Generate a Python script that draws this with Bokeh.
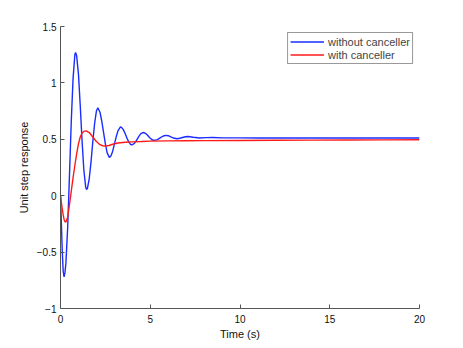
from bokeh.plotting import figure
from bokeh.models import FixedTicker, Legend, LegendItem
from bokeh.embed import file_html
from bokeh.resources import INLINE

# Data
t_blue = [0, 0.05, 0.1, 0.15, 0.2, 0.25, 0.3, 0.4, 0.5, 0.6, 0.7, 0.8, 0.84, 0.9, 1.0, 1.1, 1.2, 1.3, 1.4, 1.45,
          1.5, 1.6, 1.7, 1.8, 1.9, 2.0, 2.08, 2.2, 2.3, 2.4, 2.5, 2.6, 2.72, 2.8, 2.9, 3.0, 3.1, 3.2, 3.34,
          3.4, 3.5, 3.6, 3.7, 3.8, 3.9, 3.97, 4.1, 4.2, 4.3, 4.4, 4.5, 4.6, 4.7, 4.8, 4.9, 5.0, 5.1, 5.22,
          5.4, 5.55, 5.7, 5.85, 6.0, 6.15, 6.3, 6.48, 6.65, 6.8, 6.95, 7.1, 7.4, 7.75, 8.1, 8.5, 9, 10, 11,
          12, 14, 16, 18, 20]
y_blue = [0, -0.25, -0.5, -0.67, -0.72, -0.68, -0.60, -0.28, 0.18, 0.66, 1.04, 1.25, 1.27, 1.24, 1.08, 0.80,
          0.49, 0.23, 0.08, 0.055, 0.066, 0.15, 0.30, 0.48, 0.64, 0.75, 0.78, 0.74, 0.66, 0.56, 0.46, 0.38,
          0.34, 0.35, 0.39, 0.455, 0.52, 0.575, 0.61, 0.606, 0.586, 0.552, 0.512, 0.477, 0.455, 0.45, 0.461,
          0.482, 0.509, 0.535, 0.553, 0.56, 0.556, 0.544, 0.527, 0.51, 0.496, 0.49, 0.497, 0.512, 0.527,
          0.535, 0.532, 0.521, 0.511, 0.505, 0.509, 0.516, 0.523, 0.525, 0.518, 0.512, 0.515, 0.516, 0.513,
          0.513, 0.512, 0.512, 0.512, 0.512, 0.512, 0.512]

t_red = [0, 0.05, 0.1, 0.15, 0.2, 0.25, 0.3, 0.4, 0.5, 0.6, 0.7, 0.8, 0.9, 1.0, 1.1, 1.2, 1.3, 1.43, 1.6,
         1.8, 2.0, 2.2, 2.35, 2.5, 2.7, 2.9, 3.2, 3.6, 4.0, 4.5, 5, 6, 7, 8, 10, 12, 14, 16, 18, 20]
y_red = [0, -0.06, -0.12, -0.17, -0.21, -0.23, -0.234, -0.19, -0.08, 0.04, 0.16, 0.27, 0.37, 0.46, 0.52,
         0.555, 0.57, 0.575, 0.56, 0.52, 0.48, 0.452, 0.443, 0.44, 0.445, 0.456, 0.467, 0.474, 0.477, 0.48,
         0.484, 0.486, 0.487, 0.488, 0.49, 0.492, 0.493, 0.494, 0.495, 0.496]

x_ticks = [0, 5, 10, 15, 20]
y_ticks = [-1, -0.5, 0, 0.5, 1, 1.5]
y_tick_labels = ["\u22121", "\u22120.5", "0", "0.5", "1", "1.5"]
series_names = ["without canceller", "with canceller"]

FONT = "Liberation Sans"

p = figure(width=463, height=348, x_range=(0, 20), y_range=(-1, 1.5),
           output_backend="svg", toolbar_location=None,
           min_border_left=60, min_border_right=44, min_border_top=26, min_border_bottom=40)
p.outline_line_color = None
p.xgrid.visible = False
p.ygrid.visible = False
p.background_fill_color = "white"
p.border_fill_color = "white"

rb = p.line(t_blue, y_blue, line_color="#1a2cff", line_width=1.4)
rr = p.line(t_red, y_red, line_color="#ff1a1a", line_width=1.4)

for ax in (p.xaxis[0], p.yaxis[0]):
    ax.axis_line_color = "#555555"
    ax.major_tick_line_color = "#555555"
    ax.major_tick_in = 4
    ax.major_tick_out = 0
    ax.minor_tick_line_color = None
    ax.major_label_text_font = FONT
    ax.major_label_text_font_size = "10px"
    ax.major_label_text_color = "#111111"
    ax.axis_label_text_font = FONT
    ax.axis_label_text_font_size = "11px"
    ax.axis_label_text_font_style = "normal"
    ax.axis_label_text_color = "#111111"

p.xaxis[0].ticker = FixedTicker(ticks=x_ticks)
p.yaxis[0].ticker = FixedTicker(ticks=y_ticks)
p.yaxis[0].major_label_overrides = {k: v for k, v in zip(y_ticks, y_tick_labels)}
p.xaxis[0].axis_label = "Time (s)"
p.yaxis[0].axis_label = "Unit step response"
p.xaxis[0].major_label_standoff = 6
p.xaxis[0].axis_label_standoff = 2
p.yaxis[0].major_label_standoff = 4
p.yaxis[0].axis_label_standoff = 4

legend = Legend(items=[LegendItem(label=series_names[0], renderers=[rb]),
                       LegendItem(label=series_names[1], renderers=[rr])],
                location="top_right")
legend.margin = 6
legend.padding = 2
legend.spacing = 0
legend.label_text_font = FONT
legend.label_text_font_size = "11px"
legend.label_height = 13
legend.glyph_height = 13
legend.glyph_width = 34
legend.label_standoff = 4
legend.border_line_color = "#333333"
legend.border_line_width = 1
legend.background_fill_alpha = 1
p.add_layout(legend)

open("out.html", "w").write(file_html(p, INLINE))
